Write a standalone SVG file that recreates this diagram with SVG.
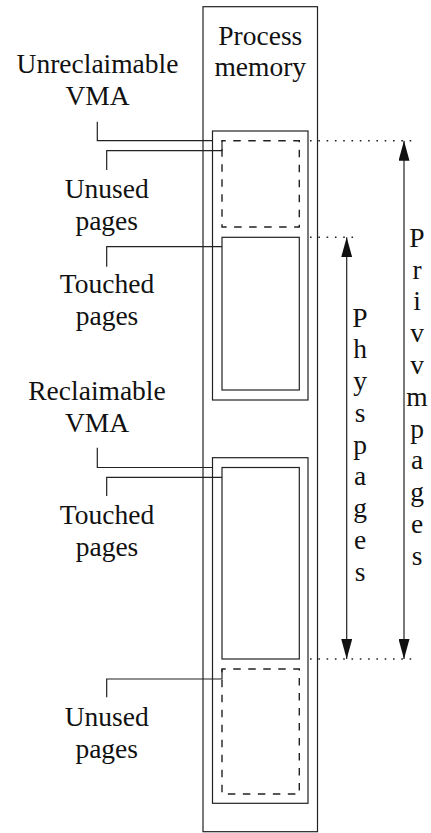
<svg xmlns="http://www.w3.org/2000/svg" width="431" height="833" viewBox="0 0 431 833">
<defs>
<style>
text{font-size:27.5px;fill:#111;text-anchor:middle}
.box{fill:none;stroke:#222;stroke-width:1.2}
.dash{fill:none;stroke:#222;stroke-width:1.4;stroke-dasharray:7.5 7.5;stroke-dashoffset:3.75}
.lead{fill:none;stroke:#222;stroke-width:1.2}
.dot{fill:none;stroke:#222;stroke-width:1.6;stroke-dasharray:1.6 6.7}
.arr{fill:none;stroke:#222;stroke-width:1.2;marker-start:url(#ah);marker-end:url(#ah)}
</style>
<marker id="ah" viewBox="0 0 20 11" refX="20" refY="5.5" markerWidth="20" markerHeight="11" markerUnits="userSpaceOnUse" orient="auto-start-reverse">
<path d="M0,0 L20,5.5 L0,11 Z" fill="#111"/>
</marker>
</defs>
<g font-family="'Liberation Serif', 'Times New Roman', 'DejaVu Serif', serif">
<g id="process">
<rect class="box" x="203" y="6.7" width="114.5" height="825"/>
<text x="260.3" y="45">Process</text>
<text x="260.3" y="76">memory</text>
</g>
<g id="unreclaimable-vma">
<rect class="box" x="212.5" y="131" width="95.5" height="269"/>
<text x="97.5" y="73.3">Unreclaimable</text>
<text x="97.5" y="105">VMA</text>
</g>
<g id="unused-upper">
<rect class="dash" x="222" y="140.7" width="77.3" height="86.3"/>
<text x="106.7" y="198.3">Unused</text>
<text x="106.7" y="230">pages</text>
</g>
<g id="touched-upper">
<rect class="box" x="222" y="237.3" width="77.3" height="152.7"/>
<text x="107" y="293.3">Touched</text>
<text x="107" y="325">pages</text>
</g>
<g id="reclaimable-vma">
<rect class="box" x="212.5" y="457.7" width="95.5" height="345.6"/>
<text x="97" y="400">Reclaimable</text>
<text x="97" y="431.7">VMA</text>
</g>
<g id="touched-lower">
<rect class="box" x="222" y="467.5" width="77.3" height="191.5"/>
<text x="107" y="524.3">Touched</text>
<text x="107" y="556">pages</text>
</g>
<g id="unused-lower">
<rect class="dash" x="222" y="669" width="77.3" height="125"/>
<text x="106.7" y="725.7">Unused</text>
<text x="106.7" y="757.5">pages</text>
</g>
<g id="physpages">
<text x="360" y="326.7">P</text>
<text x="360" y="358.4">h</text>
<text x="360" y="390.2">y</text>
<text x="360" y="421.9">s</text>
<text x="360" y="453.7">p</text>
<text x="360" y="485.4">a</text>
<text x="360" y="517.2">g</text>
<text x="360" y="548.9">e</text>
<text x="360" y="580.7">s</text>
</g>
<g id="privvmpages">
<text x="417" y="246.7">P</text>
<text x="417" y="278.5">r</text>
<text x="417" y="310.3">i</text>
<text x="417" y="342.1">v</text>
<text x="417" y="374">v</text>
<text x="417" y="405.8">m</text>
<text x="417" y="437.6">p</text>
<text x="417" y="469.4">a</text>
<text x="417" y="501.2">g</text>
<text x="417" y="533">e</text>
<text x="417" y="564.8">s</text>
</g>
</g>
<g id="connectors">
<path class="lead" d="M97.3,121.7 V140.7 H212.5"/>
<path class="lead" d="M106.7,170 V150.7 H222 V140.7"/>
<path class="lead" d="M106.7,266.7 V246.7 H222"/>
<path class="lead" d="M97.3,447.7 V467.5 H212.5"/>
<path class="lead" d="M106.7,496 V477.3 H222"/>
<path class="lead" d="M106.7,697.3 V679 H222 V669"/>
<path class="dot" d="M310,140.7 H415"/>
<path class="dot" d="M310,237.3 H357"/>
<path class="dot" d="M310,659 H415"/>
<path class="arr" d="M346.7,237.3 V659"/>
<path class="arr" d="M404,140.7 V659"/>
</g>
</svg>
